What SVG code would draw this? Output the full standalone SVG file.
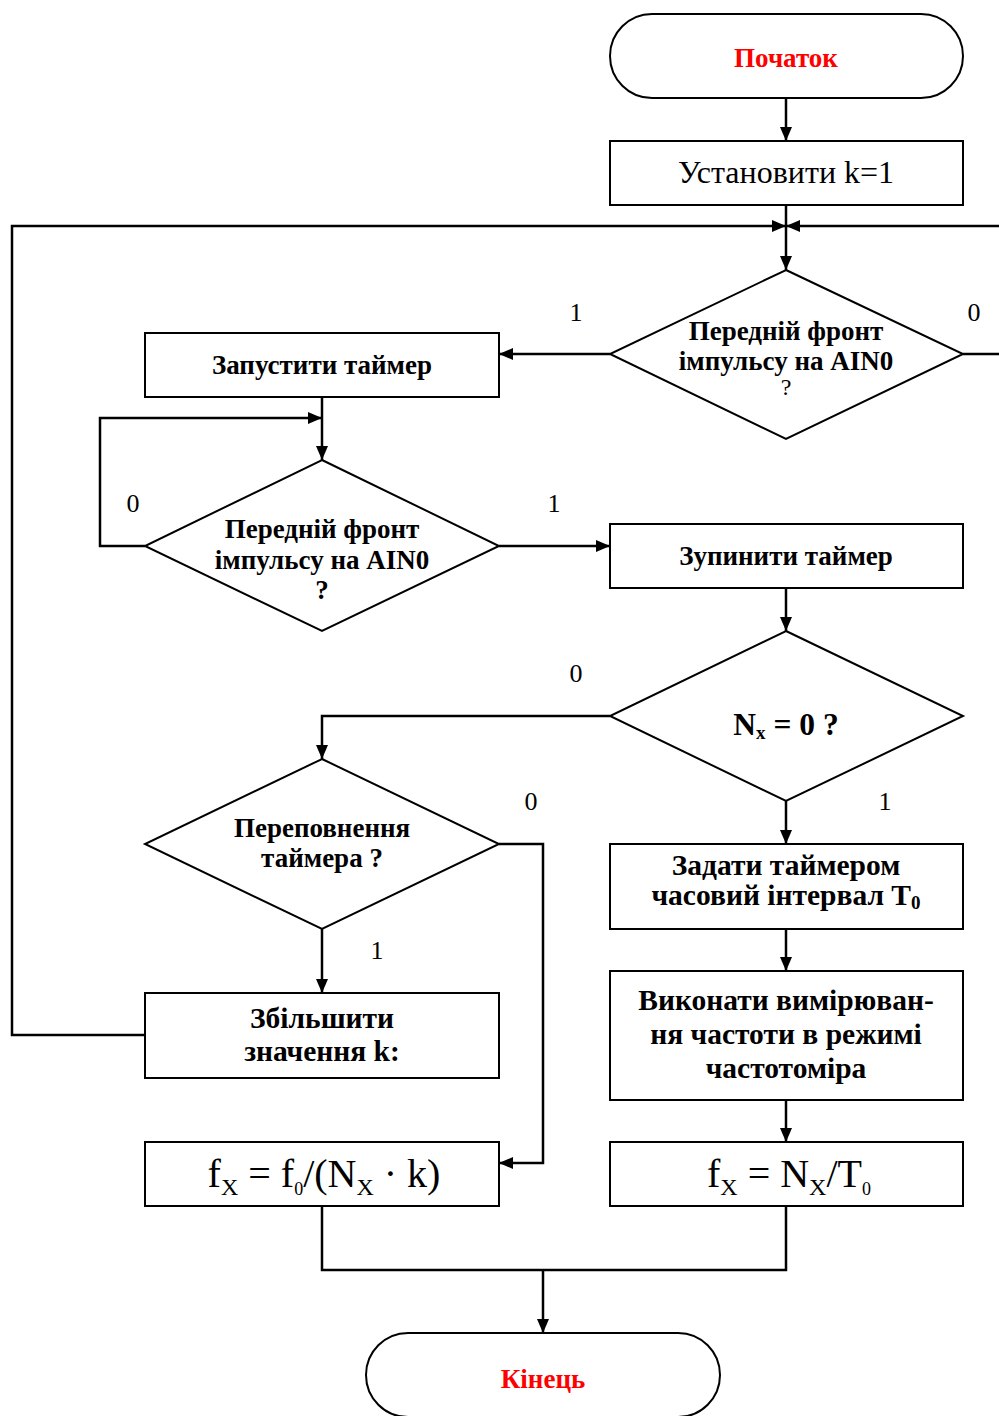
<svg xmlns="http://www.w3.org/2000/svg" width="999" height="1416" viewBox="0 0 999 1416">
<defs>
<marker id="ah" markerWidth="14" markerHeight="12" refX="14" refY="6" orient="auto" markerUnits="userSpaceOnUse">
<path d="M0,0 L14,6 L0,12 Z" fill="#000"/>
</marker>
<style>
.sh{fill:#fff;stroke:#000;stroke-width:2}
.cn{fill:none;stroke:#000;stroke-width:2.5}
.t{font-family:"Liberation Serif","Times New Roman",serif;fill:#000;text-anchor:middle}
.b{font-weight:bold;font-size:27px}
.b2{font-weight:bold;font-size:29.5px}
.red{fill:#f00;font-weight:bold;font-size:27px}
.lbl{font-family:"Liberation Serif","Times New Roman",serif;font-size:26px;fill:#000;text-anchor:middle}
.f{font-size:40px}
</style>
</defs>
<rect width="999" height="1416" fill="#fff"/>

<g id="connectors">
<line class="cn" x1="786" y1="98" x2="786" y2="141" marker-end="url(#ah)"/>
<line class="cn" x1="786" y1="205" x2="786" y2="270" marker-end="url(#ah)"/>
<polyline class="cn" points="145,1035 12,1035 12,226 786,226" marker-end="url(#ah)"/>
<polyline class="cn" points="963,354 1002,354 1002,226 786,226" marker-end="url(#ah)"/>
<line class="cn" x1="610" y1="354" x2="499" y2="354" marker-end="url(#ah)"/>
<line class="cn" x1="322" y1="397" x2="322" y2="460" marker-end="url(#ah)"/>
<polyline class="cn" points="145,546 100,546 100,418 322,418" marker-end="url(#ah)"/>
<line class="cn" x1="499" y1="546" x2="610" y2="546" marker-end="url(#ah)"/>
<line class="cn" x1="786" y1="588" x2="786" y2="631" marker-end="url(#ah)"/>
<polyline class="cn" points="610,716 322,716 322,759" marker-end="url(#ah)"/>
<line class="cn" x1="786" y1="801" x2="786" y2="844" marker-end="url(#ah)"/>
<line class="cn" x1="786" y1="929" x2="786" y2="971" marker-end="url(#ah)"/>
<line class="cn" x1="786" y1="1100" x2="786" y2="1142" marker-end="url(#ah)"/>
<polyline class="cn" points="499,844 543,844 543,1163 499,1163" marker-end="url(#ah)"/>
<line class="cn" x1="322" y1="929" x2="322" y2="993" marker-end="url(#ah)"/>
<polyline class="cn" points="322,1206 322,1270 786,1270 786,1206"/>
<line class="cn" x1="543" y1="1270" x2="543" y2="1333" marker-end="url(#ah)"/>
<text class="lbl" x="576" y="321">1</text>
<text class="lbl" x="974" y="321">0</text>
<text class="lbl" x="133" y="512">0</text>
<text class="lbl" x="554" y="512">1</text>
<text class="lbl" x="576" y="682">0</text>
<text class="lbl" x="885" y="810">1</text>
<text class="lbl" x="531" y="810">0</text>
<text class="lbl" x="377" y="959">1</text>
</g>

<g id="start">
<rect class="sh" x="610" y="14" width="353" height="84" rx="42" ry="42"/>
<text class="t red" x="786" y="67">Початок</text>
</g>

<g id="setk">
<rect class="sh" x="610" y="141" width="353" height="64"/>
<text class="t" x="786" y="183" font-size="32">Установити k=1</text>
</g>

<g id="dec1">
<polygon class="sh" points="786,270 963,354 786,439 610,354"/>
<text class="t b" x="786" y="340" font-size="26.5">Передній фронт</text>
<text class="t b" x="786" y="370" font-size="26.5">імпульсу на AIN0</text>
<text class="t" x="786" y="395" font-size="24">?</text>
</g>

<g id="starttimer">
<rect class="sh" x="145" y="333" width="354" height="64"/>
<text class="t b" x="322" y="374" font-size="32.5">Запустити таймер</text>
</g>

<g id="dec2">
<polygon class="sh" points="322,460 499,546 322,631 145,546"/>
<text class="t b" x="322" y="538">Передній фронт</text>
<text class="t b" x="322" y="569">імпульсу на AIN0</text>
<text class="t b" x="322" y="599">?</text>
</g>

<g id="stoptimer">
<rect class="sh" x="610" y="524" width="353" height="64"/>
<text class="t b" x="786" y="565" font-size="31.5">Зупинити таймер</text>
</g>

<g id="dec3">
<polygon class="sh" points="786,631 963,716 786,801 610,716"/>
<text class="t" x="786" y="735" font-weight="bold" font-size="31.5">N<tspan font-size="19" dy="4">x</tspan><tspan dy="-4"> = 0 ?</tspan></text>
</g>

<g id="dec4">
<polygon class="sh" points="322,759 499,844 322,929 145,844"/>
<text class="t b" x="322" y="837">Переповнення</text>
<text class="t b" x="322" y="867">таймера ?</text>
</g>

<g id="setinterval">
<rect class="sh" x="610" y="844" width="353" height="85"/>
<text class="t b2" x="786" y="875">Задати таймером</text>
<text class="t b2" x="786" y="905">часовий інтервал T<tspan font-size="19" dy="4">0</tspan></text>
</g>

<g id="measure">
<rect class="sh" x="610" y="971" width="353" height="129"/>
<text class="t b2" x="786" y="1010">Виконати вимірюван-</text>
<text class="t b2" x="786" y="1044">ня частоти в режимі</text>
<text class="t b2" x="786" y="1078">частотоміра</text>
</g>

<g id="increasek">
<rect class="sh" x="145" y="993" width="354" height="85"/>
<text class="t b2" x="322" y="1028">Збільшити</text>
<text class="t b2" x="322" y="1061">значення k:</text>
</g>

<g id="formula1">
<rect class="sh" x="145" y="1142" width="354" height="64"/>
<text class="t f" x="324" y="1187">f<tspan font-size="24" dy="8">X</tspan><tspan dy="-8"> = f</tspan><tspan font-size="18" dy="8">0</tspan><tspan dy="-8">/(N</tspan><tspan font-size="24" dy="8">X</tspan><tspan dy="-8"> · k)</tspan></text>
</g>

<g id="formula2">
<rect class="sh" x="610" y="1142" width="353" height="64"/>
<text class="t f" x="789" y="1187">f<tspan font-size="24" dy="8">X</tspan><tspan dy="-8"> = N</tspan><tspan font-size="24" dy="8">X</tspan><tspan dy="-8">/T</tspan><tspan font-size="18" dy="8">0</tspan></text>
</g>

<g id="end">
<rect class="sh" x="366" y="1333" width="354" height="84" rx="42" ry="42"/>
<text class="t red" x="543" y="1388">Кінець</text>
</g>
</svg>
